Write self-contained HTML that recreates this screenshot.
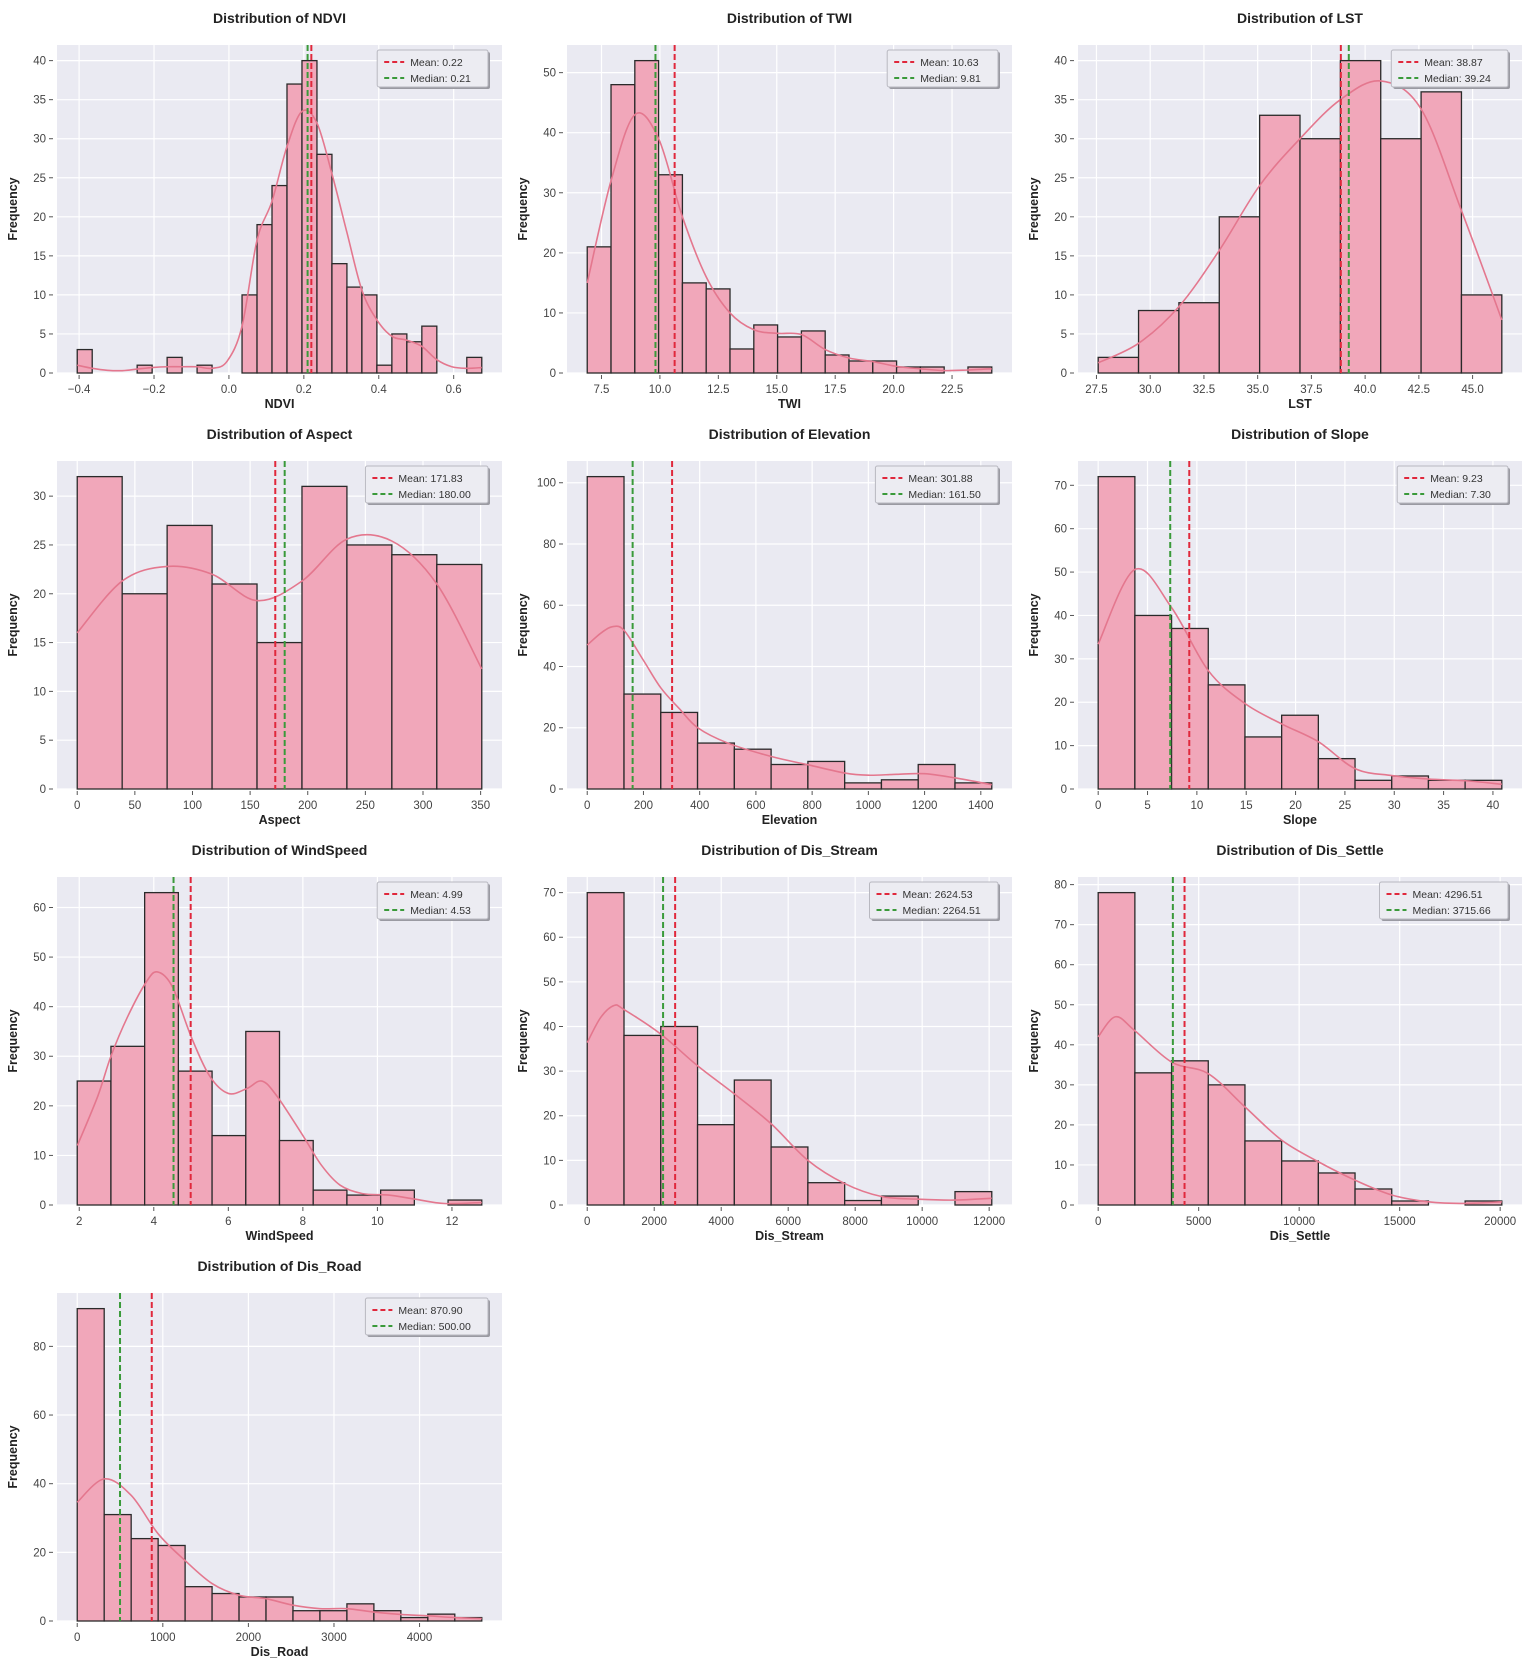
<!DOCTYPE html>
<html>
<head>
<meta charset="utf-8">
<style>
  html, body { margin: 0; padding: 0; background: #ffffff; }
  svg { display: block; font-family: "Liberation Sans", "DejaVu Sans", sans-serif; }
</style>
</head>
<body>
<svg id="fig" width="1535" height="1675" viewBox="0 0 1535 1675" xmlns="http://www.w3.org/2000/svg"></svg>
<script>
// ---------------- DATA ----------------
const ndviRange = [-0.405, 0.675];
const ndviCounts = [3,0,0,0,1,0,2,0,1,0,0,10,19,24,37,40,28,14,11,10,1,5,4,6,0,0,2];
const ndviKde = [1,0.6,0.35,0.3,0.5,0.7,0.8,0.8,0.8,0.6,1.5,6,17,22,29,33.5,32,25.5,18,10.6,6.8,4.7,4.2,3.4,1.7,0.8,0.6,0.7];
const ndviStats = [0.22, 0.21];
const ndviXTicks = [-0.4,-0.2,0,0.2,0.4,0.6];
const ndviXLabels = ["−0.4","−0.2","0.0","0.2","0.4","0.6"];
const ndviYTicks = [0,5,10,15,20,25,30,35,40];

const twiRange = [6.89, 24.2];
const twiCounts = [21,48,52,33,15,14,4,8,6,7,3,2,2,1,1,0,1];
const twiKde = [15,32,43,39,26,16,10,7.2,6.6,6.4,3.9,2.5,1.9,1.1,0.7,0.4,0.5,0.7];
const twiStats = [10.63, 9.81];
const twiXTicks = [7.5,10,12.5,15,17.5,20,22.5];
const twiXLabels = ["7.5","10.0","12.5","15.0","17.5","20.0","22.5"];
const twiYTicks = [0,10,20,30,40,50];

const lstRange = [27.58, 46.36];
const lstCounts = [2,8,9,20,33,30,40,30,36,10];
const lstKde = [1.3,3.8,8.5,15.7,24,30,35,37.4,33.8,20.8,6.8];
const lstStats = [38.87, 39.24];
const lstXTicks = [27.5,30,32.5,35,37.5,40,42.5,45];
const lstXLabels = ["27.5","30.0","32.5","35.0","37.5","40.0","42.5","45.0"];
const lstYTicks = [0,5,10,15,20,25,30,35,40];

const aspectRange = [0, 351];
const aspectCounts = [32,20,27,21,15,31,25,24,23];
const aspectKde = [16,21.3,22.8,22,19.3,21.3,25.6,25.4,21,12.3];
const aspectStats = [171.83, 180.00];
const aspectXTicks = [0,50,100,150,200,250,300,350];
const aspectXLabels = ["0","50","100","150","200","250","300","350"];
const aspectYTicks = [0,5,10,15,20,25,30];

const elevRange = [0, 1439];
const elevCounts = [102,31,25,15,13,8,9,2,3,8,2];
const elevKdeX = [0,50,90,131,200,262,330,393,500,655,786,917,1000,1100,1200,1310,1439];
const elevKde = [47,51,53,51.8,42,33,26,20,15,10.6,7.9,5.2,4.5,4.8,5,3.6,1.4];
const elevStats = [301.88, 161.50];
const elevXTicks = [0,200,400,600,800,1000,1200,1400];
const elevXLabels = ["0","200","400","600","800","1000","1200","1400"];
const elevYTicks = [0,20,40,60,80,100];

const slopeRange = [0, 40.9];
const slopeCounts = [72,40,37,24,12,17,7,2,3,2,2];
const slopeKde = [33.4,50.6,41.8,27.3,19.7,15,10.9,4.7,3.1,2.3,1.9,1.1];
const slopeStats = [9.23, 7.30];
const slopeXTicks = [0,5,10,15,20,25,30,35,40];
const slopeXLabels = ["0","5","10","15","20","25","30","35","40"];
const slopeYTicks = [0,10,20,30,40,50,60,70];

const windRange = [1.946, 12.80];
const windCounts = [25,32,63,27,14,35,13,3,2,3,0,1];
const windKdeX = [1.95,2.5,2.85,3.3,3.8,4.1,4.5,5.0,5.5,6.0,6.5,6.9,7.3,8.0,8.5,9.0,9.6,10.3,11.0,11.8,12.8];
const windKde = [12,22,30,38,45,47,44,34,26,22.5,23.5,25,22,14,8,4,2.3,2,1.2,0.3,0.5];
const windStats = [4.99, 4.53];
const windXTicks = [2,4,6,8,10,12];
const windXLabels = ["2","4","6","8","10","12"];
const windYTicks = [0,10,20,30,40,50,60];

const streamRange = [0, 12078];
const streamCounts = [70,38,40,18,28,13,5,1,2,0,3];
const streamKdeX = [0,400,800,1098,2196,3294,4392,5490,6588,7686,8784,9882,10980,12078];
const streamKde = [36.4,42,44.7,43.8,38.3,31.2,24.9,18.2,10,4.8,1.9,1.3,1.1,1.5];
const streamStats = [2624.53, 2264.51];
const streamXTicks = [0,2000,4000,6000,8000,10000,12000];
const streamXLabels = ["0","2000","4000","6000","8000","10000","12000"];
const streamYTicks = [0,10,20,30,40,50,60,70];

const settleRange = [0, 20083];
const settleCounts = [78,33,36,30,16,11,8,4,1,0,1];
const settleKdeX = [0,860,1826,3651,5477,7303,9129,10954,12780,14606,16432,18257,20083];
const settleKde = [42,47,43.5,35.7,32.8,24.5,16.2,10.8,6.2,2.5,0.8,0.4,0.8];
const settleStats = [4296.51, 3715.66];
const settleXTicks = [0,5000,10000,15000,20000];
const settleXLabels = ["0","5000","10000","15000","20000"];
const settleYTicks = [0,10,20,30,40,50,60,70,80];

const roadRange = [0, 4727];
const roadCounts = [91,31,24,22,10,8,7,7,3,3,5,3,1,2,1];
const roadKde = [34.6,41.4,36.6,25.4,17.6,10.9,7.5,6.5,4.6,3.6,3.6,2.6,1.9,1.5,1,0.7];
const roadStats = [870.90, 500.00];
const roadXTicks = [0,1000,2000,3000,4000];
const roadXLabels = ["0","1000","2000","3000","4000"];
const roadYTicks = [0,20,40,60,80];

const charts = [
  {key:'ndvi', name:'NDVI', title:'Distribution of NDVI', range:ndviRange, counts:ndviCounts, kde:ndviKde, kdeX:null, stats:ndviStats, xt:ndviXTicks, xl:ndviXLabels, yt:ndviYTicks, dec:2, col:0, row:0},
  {key:'twi', name:'TWI', title:'Distribution of TWI', range:twiRange, counts:twiCounts, kde:twiKde, kdeX:null, stats:twiStats, xt:twiXTicks, xl:twiXLabels, yt:twiYTicks, dec:2, col:1, row:0},
  {key:'lst', name:'LST', title:'Distribution of LST', range:lstRange, counts:lstCounts, kde:lstKde, kdeX:null, stats:lstStats, xt:lstXTicks, xl:lstXLabels, yt:lstYTicks, dec:2, col:2, row:0},
  {key:'aspect', name:'Aspect', title:'Distribution of Aspect', range:aspectRange, counts:aspectCounts, kde:aspectKde, kdeX:null, stats:aspectStats, xt:aspectXTicks, xl:aspectXLabels, yt:aspectYTicks, dec:2, col:0, row:1},
  {key:'elevation', name:'Elevation', title:'Distribution of Elevation', range:elevRange, counts:elevCounts, kde:elevKde, kdeX:elevKdeX, stats:elevStats, xt:elevXTicks, xl:elevXLabels, yt:elevYTicks, dec:2, col:1, row:1},
  {key:'slope', name:'Slope', title:'Distribution of Slope', range:slopeRange, counts:slopeCounts, kde:slopeKde, kdeX:null, stats:slopeStats, xt:slopeXTicks, xl:slopeXLabels, yt:slopeYTicks, dec:2, col:2, row:1},
  {key:'windspeed', name:'WindSpeed', title:'Distribution of WindSpeed', range:windRange, counts:windCounts, kde:windKde, kdeX:windKdeX, stats:windStats, xt:windXTicks, xl:windXLabels, yt:windYTicks, dec:2, col:0, row:2},
  {key:'dis-stream', name:'Dis_Stream', title:'Distribution of Dis_Stream', range:streamRange, counts:streamCounts, kde:streamKde, kdeX:streamKdeX, stats:streamStats, xt:streamXTicks, xl:streamXLabels, yt:streamYTicks, dec:2, col:1, row:2},
  {key:'dis-settle', name:'Dis_Settle', title:'Distribution of Dis_Settle', range:settleRange, counts:settleCounts, kde:settleKde, kdeX:settleKdeX, stats:settleStats, xt:settleXTicks, xl:settleXLabels, yt:settleYTicks, dec:2, col:2, row:2},
  {key:'dis-road', name:'Dis_Road', title:'Distribution of Dis_Road', range:roadRange, counts:roadCounts, kde:roadKde, kdeX:null, stats:roadStats, xt:roadXTicks, xl:roadXLabels, yt:roadYTicks, dec:2, col:0, row:3}
];

// ---------------- LAYOUT ----------------
const colX = [[57,502],[567,1012],[1078,1522]];
const rowY = [[45,373],[461,789],[877,1205],[1293,1621]];
const NS = 'http://www.w3.org/2000/svg';
const svg = document.getElementById('fig');

function mk(tag, attrs, parent) {
  const e = document.createElementNS(NS, tag);
  for (const k in attrs) e.setAttribute(k, attrs[k]);
  parent.appendChild(e);
  return e;
}

function smoothPath(pts) {
  if (pts.length < 2) return '';
  let d = 'M' + pts[0][0].toFixed(2) + ',' + pts[0][1].toFixed(2);
  for (let i = 0; i < pts.length - 1; i++) {
    const p0 = pts[Math.max(0, i - 1)], p1 = pts[i], p2 = pts[i + 1], p3 = pts[Math.min(pts.length - 1, i + 2)];
    const c1x = p1[0] + (p2[0] - p0[0]) / 6, c1y = p1[1] + (p2[1] - p0[1]) / 6;
    const c2x = p2[0] - (p3[0] - p1[0]) / 6, c2y = p2[1] - (p3[1] - p1[1]) / 6;
    d += ' C' + c1x.toFixed(2) + ',' + c1y.toFixed(2) + ' ' + c2x.toFixed(2) + ',' + c2y.toFixed(2) + ' ' + p2[0].toFixed(2) + ',' + p2[1].toFixed(2);
  }
  return d;
}

charts.forEach(c => {
  const [L, R] = colX[c.col];
  const [T, B] = rowY[c.row];
  const lo = c.range[0], hi = c.range[1];
  const span = hi - lo;
  const x0 = lo - 0.05 * span, x1 = hi + 0.05 * span;
  const ymax = Math.max(...c.counts) * 1.05;
  const xs = v => L + (v - x0) / (x1 - x0) * (R - L);
  const ys = v => B - v / ymax * (B - T);

  const g = mk('g', {}, svg);
  
  

  const bg = mk('rect', {x:L, y:T, width:R-L, height:B-T, fill:'#eaeaf2'}, g);
  
  

  // grid
  c.yt.forEach(v => {
    const gl = mk('line', {x1:L, x2:R, y1:ys(v), y2:ys(v), stroke:'#ffffff', 'stroke-width':1.2}, g);
    
    
  });
  c.xt.forEach(v => {
    const gl = mk('line', {x1:xs(v), x2:xs(v), y1:T, y2:B, stroke:'#ffffff', 'stroke-width':1.2}, g);
    
    
  });

  // bars
  const n = c.counts.length, bw = span / n;
  c.counts.forEach((cnt, i) => {
    if (cnt <= 0) return;
    const bx = xs(lo + i * bw), bx2 = xs(lo + (i + 1) * bw);
    const r = mk('rect', {x:bx, y:ys(cnt), width:bx2 - bx, height:B - ys(cnt), fill:'#f1a7ba', stroke:'#2a2a2a', 'stroke-width':1.3}, g);
    
    
  });

  // kde
  const kx = c.kdeX ? c.kdeX : c.kde.map((_, i) => lo + i * bw);
  const pts = c.kde.map((v, i) => [xs(kx[i]), ys(v)]);
  const kp = mk('path', {d:smoothPath(pts), fill:'none', stroke:'#e4778e', 'stroke-width':1.6}, g);
  
  

  // mean/median lines
  const meanL = mk('line', {x1:xs(c.stats[0]), x2:xs(c.stats[0]), y1:T, y2:B, stroke:'#e0283c', 'stroke-width':2, 'stroke-dasharray':'6,3'}, g);
  
  
  const medL = mk('line', {x1:xs(c.stats[1]), x2:xs(c.stats[1]), y1:T, y2:B, stroke:'#3a9a3a', 'stroke-width':2, 'stroke-dasharray':'6,3'}, g);
  
  

  // ticks
  c.yt.forEach(v => {
    const tk = mk('line', {x1:L - 8, x2:L - 4, y1:ys(v), y2:ys(v), stroke:'#555', 'stroke-width':1}, g);
    
    
    const t = mk('text', {x:L - 11, y:ys(v) + 4, 'text-anchor':'end', 'font-size':11.5, fill:'#444'}, g);
    t.textContent = String(v);
    
    
  });
  c.xt.forEach((v, i) => {
    const tk = mk('line', {x1:xs(v), x2:xs(v), y1:B + 2, y2:B + 6, stroke:'#555', 'stroke-width':1}, g);
    
    
    const t = mk('text', {x:xs(v), y:B + 20, 'text-anchor':'middle', 'font-size':11.5, fill:'#444'}, g);
    t.textContent = c.xl[i];
    
    
  });

  // labels
  const title = mk('text', {x:(L + R) / 2, y:T - 22, 'text-anchor':'middle', 'font-size':14, 'font-weight':'bold', fill:'#222'}, g);
  title.textContent = c.title;
  
  
  const xlab = mk('text', {x:(L + R) / 2, y:B + 35, 'text-anchor':'middle', 'font-size':12.5, 'font-weight':'bold', fill:'#222'}, g);
  xlab.textContent = c.name;
  
  
  const yx = L - 40, yy = (T + B) / 2;
  const ylab = mk('text', {x:yx, y:yy, 'text-anchor':'middle', 'font-size':12.5, 'font-weight':'bold', fill:'#222', transform:'rotate(-90 ' + yx + ' ' + yy + ')'}, g);
  ylab.textContent = 'Frequency';
  
  

  // legend
  const meanTxt = 'Mean: ' + c.stats[0].toFixed(c.dec);
  const medTxt = 'Median: ' + c.stats[1].toFixed(c.dec);
  const maxLen = Math.max(meanTxt.length, medTxt.length);
  const lw = 34 + maxLen * 5.9 + 6, lh = 37;
  const lx = R - 14 - lw, ly = T + 5;
  const lg = mk('g', {}, g);
  
  
  mk('rect', {x:lx + 2, y:ly + 2, width:lw, height:lh, fill:'#9a9aa2', rx:2}, lg);
  mk('rect', {x:lx, y:ly, width:lw, height:lh, fill:'#ececf2', stroke:'#b8b8c0', 'stroke-width':1, rx:2}, lg);
  [[meanTxt, '#e0283c', 'legend-entry-mean'], [medTxt, '#3a9a3a', 'legend-entry-median']].forEach((e, i) => {
    const ry = ly + 12 + i * 16;
    const sw = mk('line', {x1:lx + 7, x2:lx + 27, y1:ry, y2:ry, stroke:e[1], 'stroke-width':2, 'stroke-dasharray':'5,3'}, lg);
    
    
    const t = mk('text', {x:lx + 33, y:ry + 4, 'font-size':10.5, fill:'#333'}, lg);
    t.textContent = e[0];
    
    
  });
});
</script>
</body>
</html>
